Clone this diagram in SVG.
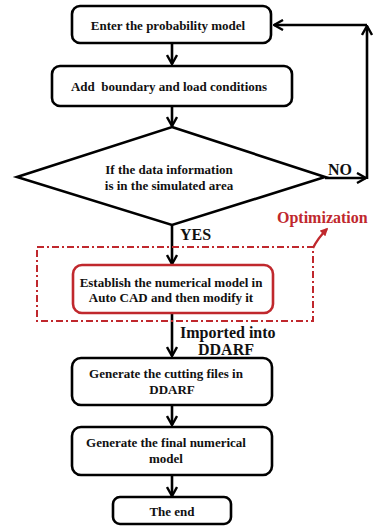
<svg xmlns="http://www.w3.org/2000/svg" width="375" height="526" viewBox="0 0 375 526">
<defs>
<style>
.box{fill:#fff;stroke:#000;stroke-width:2.6}
.rbox{fill:#fff;stroke:#c0282d;stroke-width:2.6}
.t{font-family:"Liberation Serif","DejaVu Serif","Times New Roman",serif;font-weight:bold;font-size:13px;fill:#111;text-anchor:middle}
.big{font-family:"Liberation Serif","DejaVu Serif","Times New Roman",serif;font-weight:bold;font-size:16px;fill:#111}
.red{font-family:"Liberation Serif","DejaVu Serif","Times New Roman",serif;font-weight:bold;font-size:16px;fill:#c0282d}
.c{fill:none;stroke:#000;stroke-width:2.6}
</style>
<marker id="ah" viewBox="0 0 12 12" refX="11" refY="6" markerWidth="12" markerHeight="12" markerUnits="userSpaceOnUse" orient="auto">
<polyline points="2,1 11,6 2,11" fill="none" stroke="#000" stroke-width="2.4"/>
</marker>
<marker id="rh" viewBox="0 0 10 10" refX="8" refY="5" markerWidth="8" markerHeight="8" markerUnits="userSpaceOnUse" orient="auto">
<path d="M0,0 L10,5 L0,10 Z" fill="#c0282d"/>
</marker>
</defs>
<rect width="375" height="526" fill="#fff"/>
<g id="connectors">
<line class="c" x1="172" y1="43" x2="172" y2="64" marker-end="url(#ah)"/>
<line class="c" x1="172" y1="106" x2="172" y2="126" marker-end="url(#ah)"/>
<line class="c" x1="325" y1="178" x2="366" y2="178" marker-end="url(#ah)"/>
<line class="c" x1="367" y1="179" x2="367" y2="26" marker-end="url(#ah)"/>
<line class="c" x1="367" y1="25" x2="274" y2="25" marker-end="url(#ah)"/>
<line class="c" x1="172" y1="225" x2="172" y2="264" marker-end="url(#ah)"/>
<line class="c" x1="172" y1="313" x2="172" y2="356" marker-end="url(#ah)"/>
<line class="c" x1="172" y1="405" x2="172" y2="425" marker-end="url(#ah)"/>
<line class="c" x1="172" y1="475" x2="172" y2="496" marker-end="url(#ah)"/>
<path d="M313,248 Q318,238 327,229" fill="none" stroke="#c0282d" stroke-width="2.4" marker-end="url(#rh)"/>
<text class="big" x="328" y="175" font-size="14">NO</text>
<text class="big" x="180" y="240" font-size="15">YES</text>
<text class="big" x="180" y="338">Imported into</text>
<text class="big" x="198" y="355">DDARF</text>
<text class="red" x="277" y="223">Optimization</text>
</g>
<g id="optimization-region">
<rect x="37" y="247" width="276" height="74" fill="none" stroke="#c0282d" stroke-width="2" stroke-dasharray="7,3,2,3"/>
</g>
<g id="n1">
<rect class="box" x="72" y="6" width="199" height="37" rx="8"/>
<text class="t" x="168" y="30">Enter the probability model</text>
</g>
<g id="n2">
<rect class="box" x="52" y="66" width="240" height="40" rx="8"/>
<text class="t" x="169" y="91" xml:space="preserve">Add  boundary and load conditions</text>
</g>
<g id="n3">
<polygon class="box" points="172,127 325,177 172,225 17,177"/>
<text class="t" x="169" y="174">If the data information</text>
<text class="t" x="169" y="190">is in the simulated area</text>
</g>
<g id="n4">
<rect class="rbox" x="73" y="265" width="200" height="48" rx="9"/>
<text class="t" x="171" y="287">Establish the numerical model in</text>
<text class="t" x="171" y="302">Auto CAD and then modify it</text>
</g>
<g id="n5">
<rect class="box" x="72" y="358" width="200" height="47" rx="9"/>
<text class="t" x="166" y="378">Generate the cutting files in</text>
<text class="t" x="172" y="394">DDARF</text>
</g>
<g id="n6">
<rect class="box" x="72" y="427" width="200" height="48" rx="9"/>
<text class="t" x="166" y="447">Generate the final numerical</text>
<text class="t" x="166" y="463">model</text>
</g>
<g id="n7">
<rect class="box" x="113" y="497" width="118" height="27" rx="7"/>
<text class="t" x="172" y="516">The end</text>
</g>
</svg>
